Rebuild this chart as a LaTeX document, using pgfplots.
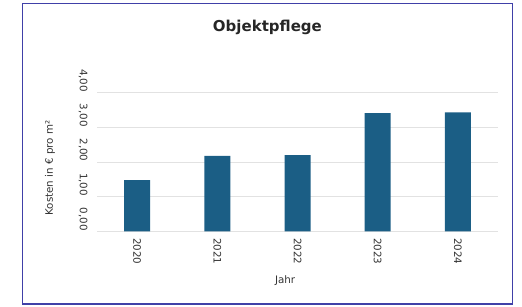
\documentclass[border=0pt]{standalone}
\usepackage{pgfplots}
\pgfplotsset{compat=1.18}
\usepackage{fontspec}
\setmainfont{DejaVu Sans}
\definecolor{barblue}{HTML}{1B5E85}
\definecolor{framecol}{HTML}{4040A8}
\definecolor{gridcol}{HTML}{E2E2E2}
\definecolor{txt}{HTML}{333333}
\begin{document}
\begin{tikzpicture}[x=1pt,y=1pt]
\useasboundingbox (0,0) rectangle (522,307);
\draw[framecol, line width=1.6pt] (22.5,3) rectangle (512.5,303.5);
\begin{axis}[
  at={(97pt,75.5pt)}, anchor=south west,
  scale only axis, width=401pt, height=138.8pt,
  xmin=-0.5, xmax=4.5, ymin=0, ymax=4,
  ybar, bar width=26pt,
  xtick={0,1,2,3,4},
  xticklabels={2020,2021,2022,2023,2024},
  ytick={0,1,2,3,4},
  ymajorgrids, major grid style={gridcol, line width=0.8pt},
  axis line style={draw=none},
  major tick length=0pt,
  /pgf/number format/.cd, fixed, fixed zerofill, precision=2, use comma, assume math mode=true,
  /pgfplots/.cd,
  tick label style={font=\fontsize{10.3}{12}\selectfont, text=txt},
  xticklabel style={rotate=-90, anchor=west},
  xticklabel shift=3pt,
  yticklabel style={rotate=-90, anchor=north east, inner xsep=0.5pt},
  yticklabel shift=6pt,
  title={Objektpflege},
  title style={at={(axis description cs:0.425,1.401)}, anchor=base, font=\fontsize{15}{18}\selectfont\bfseries, text=black!85},
  xlabel={Jahr},
  xlabel style={at={(axis description cs:0.469,-0.357)}, anchor=center, font=\fontsize{10.3}{12}\selectfont, text=txt},
  ylabel={Kosten in € pro m²},
  ylabel style={at={(axis description cs:-0.117,0.457)}, anchor=center, font=\fontsize{10.3}{12}\selectfont, text=txt},
]
\addplot[fill=barblue, draw=none] coordinates {(0,1.48) (1,2.18) (2,2.20) (3,3.41) (4,3.43)};
\end{axis}
\end{tikzpicture}
\end{document}
